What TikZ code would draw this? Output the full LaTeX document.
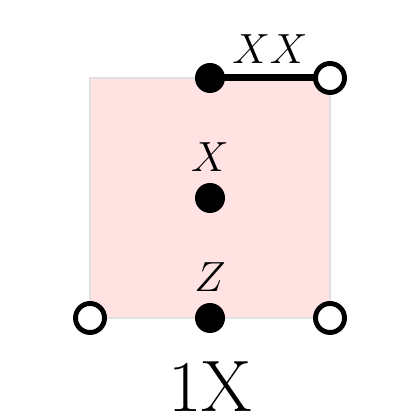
\documentclass[tikz,border=0pt]{standalone}
\usepackage{amsmath}
\usepackage{tikz}
\usepackage{xcolor}

\begin{document}
\begin{tikzpicture}[x=1.2cm,y=1.2cm]
  \useasboundingbox (-0.75,-0.85) rectangle (2.75,2.65);
  % face
  \path[fill=red!11,draw=black!12,line width=0.6pt] (0,0)--++(2,0)--++(0,2)--++(-2,0)--cycle;
  \coordinate (top) at (1,2);
  \coordinate (topright) at (2,2);
  \coordinate (mid) at (1,1);
  \coordinate (bot) at (1,0);
  \coordinate (botleft) at (0,0);
  \coordinate (botright) at (2,0);
  \draw[line width=2pt] (top)--(topright);
  \path[fill=black] (top) circle (1.5mm);
  \path[fill=black] (mid) circle (1.5mm);
  \path[fill=black] (bot) circle (1.5mm);
  \path[fill=white,draw=black,line width=1.4pt] (topright) circle (1.45mm);
  \path[fill=white,draw=black,line width=1.4pt] (botleft) circle (1.45mm);
  \path[fill=white,draw=black,line width=1.4pt] (botright) circle (1.45mm);
  \node[font=\large] (lxx) at (1.5,2.24) {$XX$};
  \node[font=\large] (lx) at (1,1.34) {$X$};
  \node[font=\large] (lz) at (1,0.34) {$Z$};
  \node[font=\huge] (name) at (1,-0.57) {1X};
\end{tikzpicture}
\end{document}
